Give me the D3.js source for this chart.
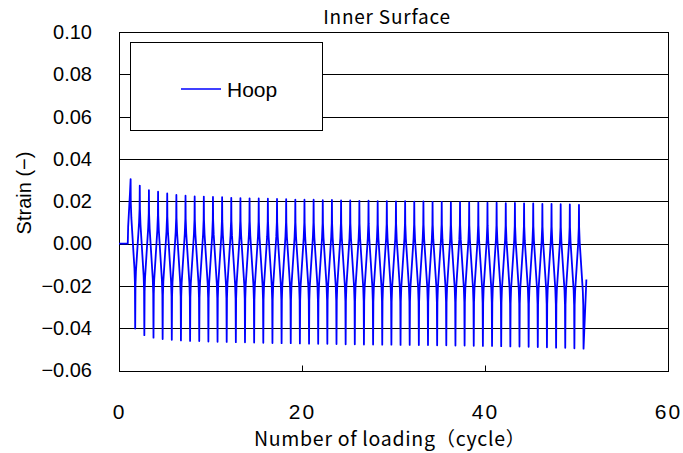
<!DOCTYPE html>
<html>
<head>
<meta charset="utf-8">
<script src="https://cdn.jsdelivr.net/npm/d3@7/dist/d3.min.js"></script>
<style>
  html, body { margin: 0; padding: 0; background: #fff; }
  svg { display: block; }
</style>
</head>
<body>
<svg id="chart" width="683" height="453"></svg>
<script>
// Hoop strain on the inner surface, recorded cycle by cycle.
const chartTitle = "Inner Surface";
const seriesName = "Hoop";
const xTicks = [0, 20, 40, 60];
const yTicks = [-0.06, -0.04, -0.02, 0.00, 0.02, 0.04, 0.06, 0.08, 0.10];

// Strain before the first load is applied (cycle, strain).
const leadIn = [[0, 0], [0.96, 0], [1.0, 0.008], [1.2, 0.024]];
// Cycle position of the first peak; later peaks follow one per cycle.
const firstPeakCycle = 1.27;

// Maximum (tension) strain reached in each loading cycle 1..50.
const peakStrain = [
  0.0305, 0.0274, 0.0252, 0.0245, 0.0237, 0.0230, 0.0226, 0.0223, 0.0222, 0.0220,
  0.0219, 0.0216, 0.0215, 0.0214, 0.0213, 0.0212, 0.0211, 0.0210, 0.0208, 0.0207,
  0.0207, 0.0205, 0.0206, 0.0204, 0.0204, 0.0202, 0.0203, 0.0201, 0.0201, 0.0199,
  0.0200, 0.0198, 0.0199, 0.0197, 0.0197, 0.0195, 0.0196, 0.0194, 0.0195, 0.0193,
  0.0193, 0.0191, 0.0192, 0.0190, 0.0190, 0.0188, 0.0188, 0.0186, 0.0185, 0.0183
];
// Minimum (compression) strain reached in each loading cycle 1..50.
const troughStrain = [
  -0.0402, -0.0433, -0.0445, -0.0451, -0.0455, -0.0458, -0.0460, -0.0461, -0.0463, -0.0464,
  -0.0465, -0.0466, -0.0467, -0.0468, -0.0469, -0.0470, -0.0471, -0.0471, -0.0472, -0.0473,
  -0.0474, -0.0474, -0.0475, -0.0476, -0.0476, -0.0477, -0.0477, -0.0478, -0.0478, -0.0479,
  -0.0479, -0.0480, -0.0480, -0.0481, -0.0481, -0.0482, -0.0482, -0.0483, -0.0484, -0.0484,
  -0.0485, -0.0486, -0.0487, -0.0488, -0.0489, -0.0490, -0.0492, -0.0493, -0.0495, -0.0497
];
// Last recorded strain, on the unloading after the final trough.
const finalStrain = [[51.08, -0.017]];

// Knees of one loading cycle: [phase after the peak, share of the peak-to-trough range still left].
const unloadShape = [[0.02, 0.84], [0.08, 0.74], [0.42, 0.4], [0.47, 0.3]];
const reloadShape = [[0.53, 0.3], [0.58, 0.4], [0.92, 0.74], [0.98, 0.84]];

const svg = d3.select("#chart");
const plot = { left: 119, right: 668, top: 32, bottom: 370.5 };

const x = d3.scaleLinear().domain([0, 60]).range([plot.left, plot.right]);
const y = d3.scaleLinear().domain([-0.06, 0.10]).range([plot.bottom, plot.top]);

// Assemble the strain history.
const history = leadIn.slice();
peakStrain.forEach((p, i) => {
  const t = troughStrain[i];
  const c = firstPeakCycle + i;
  history.push([c, p]);
  unloadShape.forEach(([ph, f]) => history.push([c + ph, t + f * (p - t)]));
  history.push([c + 0.5, t]);
  const nextP = i + 1 < peakStrain.length ? peakStrain[i + 1] : null;
  if (nextP !== null) {
    reloadShape.forEach(([ph, f]) => history.push([c + ph, t + f * (nextP - t)]));
  }
});
finalStrain.forEach(d => history.push(d));

const sans = "'Liberation Sans', Arial, sans-serif";
const gothic = "'Noto Sans CJK JP', sans-serif";

// Horizontal grid lines at every y tick.
svg.append("g")
  .selectAll("line")
  .data(yTicks)
  .join("line")
  .attr("x1", plot.left).attr("x2", plot.right)
  .attr("y1", d => Math.round(y(d)) + 0.5).attr("y2", d => Math.round(y(d)) + 0.5)
  .attr("stroke", "#000").attr("stroke-width", 1);

// Plot frame.
svg.append("rect")
  .attr("x", plot.left + 0.5).attr("y", Math.round(plot.top) + 0.5)
  .attr("width", plot.right - plot.left)
  .attr("height", Math.round(plot.bottom) - Math.round(plot.top))
  .attr("fill", "none").attr("stroke", "#000").attr("stroke-width", 1);

// X axis: inward ticks, labels below.
const xAxis = d3.axisBottom(x).tickValues(xTicks).tickSize(-6).tickPadding(0)
  .tickFormat(d3.format("d"));
const gx = svg.append("g").attr("transform", `translate(0,${Math.round(plot.bottom) + 0.5})`).call(xAxis);
gx.select(".domain").remove();
gx.selectAll(".tick line").attr("stroke", "#000");
gx.selectAll(".tick text")
  .attr("y", 47.5).attr("dy", null)
  .attr("font-family", sans).attr("font-size", 21)
  .attr("letter-spacing", 2).attr("fill", "#000");

// Y axis labels.
const yAxis = d3.axisLeft(y).tickValues(yTicks).tickSize(0).tickPadding(27)
  .tickFormat(d => d3.format(".2f")(d).replace("-", "\u2212"));
const gy = svg.append("g").attr("transform", `translate(${plot.left},0)`).call(yAxis);
gy.select(".domain").remove();
gy.selectAll(".tick text").attr("font-family", sans).attr("font-size", 20).attr("fill", "#000");

// Legend box.
const legend = svg.append("g");
legend.append("rect")
  .attr("x", 130.5).attr("y", 42.5).attr("width", 192).attr("height", 88)
  .attr("fill", "#fff").attr("stroke", "#000").attr("stroke-width", 1);
legend.append("line")
  .attr("x1", 181).attr("x2", 221).attr("y1", 89).attr("y2", 89)
  .attr("stroke", "#0000ff").attr("stroke-width", 1.3);
legend.append("text")
  .attr("x", 227).attr("y", 96.5)
  .attr("font-family", sans).attr("font-size", 21).attr("fill", "#000")
  .text(seriesName);

// The strain trace.
const line = d3.line().x(d => x(d[0])).y(d => y(d[1]));
svg.append("path")
  .datum(history)
  .attr("d", line)
  .attr("fill", "none")
  .attr("stroke", "#0000ff")
  .attr("stroke-width", 1.8)
  .attr("stroke-linejoin", "round");

// Titles.
svg.append("text")
  .attr("x", 387).attr("y", 24)
  .attr("text-anchor", "middle")
  .attr("font-family", gothic).attr("font-size", 19).attr("letter-spacing", 0.8).attr("fill", "#000")
  .text(chartTitle);

svg.append("text")
  .attr("x", 390).attr("y", 446)
  .attr("text-anchor", "middle")
  .attr("font-family", gothic).attr("font-size", 19.5).attr("letter-spacing", 0.7).attr("fill", "#000")
  .text("Number of loading\uFF08cycle\uFF09");

svg.append("text")
  .attr("transform", "translate(31,193) rotate(-90)")
  .attr("text-anchor", "middle")
  .attr("font-family", sans).attr("font-size", 20).attr("fill", "#000")
  .text("Strain (\u2212)");
</script>
</body>
</html>
